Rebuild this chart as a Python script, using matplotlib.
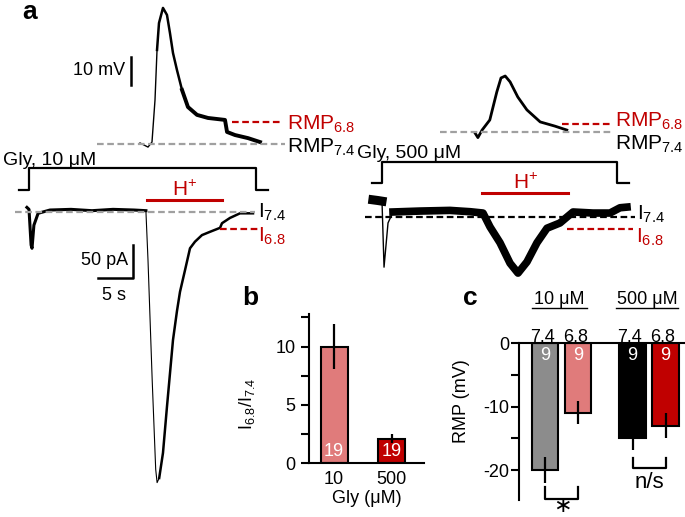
import matplotlib.pyplot as plt
from matplotlib import transforms
from matplotlib.ticker import MultipleLocator

plt.rcParams['font.family'] = ['Liberation Sans', 'DejaVu Sans']
plt.rcParams['axes.unicode_minus'] = False

W, H = 685, 517
RED = '#c00000'
PINK = '#e07b7b'
GRAY = '#8c8c8c'
DASH = '#a0a0a0'
FS = 13

# ---- panel a, 10 uM glycine: time (s) vs current (pA) / voltage (mV) ----
t_i10 = [-0.3, 0.0, 0.3, 0.43, 0.7, 1.3, 3.0, 6.0, 9.0, 12.0, 15.0, 16.7,
         17.0, 17.6, 18.1, 18.3, 18.6, 19.14, 19.71, 20.57, 21.14, 21.57,
         22.29, 23.0, 23.71, 24.71, 25.86, 27.29, 27.57, 28.71, 30.14, 32.0]
i_10 = [7, 4, -50, -55, -20, -2, 3, 4, 2, 4, 3, 2,
        -73, -255, -390, -410, -403, -365, -295, -194, -150, -121,
        -88, -55, -45, -35, -30, -24, -17, -9, -2, -2]
t_v10 = [15.86, 17.0, 17.57, 18.0, 18.29, 18.57, 19.14, 19.71, 20.14, 20.57,
         21.14, 21.86, 22.71, 24.0, 25.57, 28.0, 28.29, 29.43, 31.29, 33.0]
v_10 = [0.36, -1.1, 0.7, 15.7, 33.6, 43.2, 48.6, 46.1, 39.6, 32.5,
        26.4, 19.3, 13.2, 10.4, 9.3, 8.6, 4.3, 3.2, 2.1, 0.7]
gly_10 = [0.0, 32.4]
proton_10 = [16.9, 27.6]
rmp68_10 = 7.9
i68_10 = -26

# ---- panel a, 500 uM glycine ----
t_i500 = [-1.3, -0.6, 0.0, 0.29, 0.86, 1.57, 5.4, 9.7, 12.6, 14.43, 15.43,
          16.86, 18.29, 19.43, 20.71, 22.14, 23.57, 25.43, 26.43, 27.29,
          30.14, 32.57, 34.0, 35.0]
i_500 = [26, 25, 24, -76, -9, 7.6, 9, 10, 8, 6, -15,
         -39, -70, -85, -68, -39, -17, -9, 0, 7.6,
         6, 6, 14, 15]
t_v500 = [13.3, 13.7, 14.3, 15.4, 16.4, 17.0, 17.6, 18.3, 19.4, 20.7, 22.6,
          24.7, 26.4]
v_500 = [-0.4, -2, 0.7, 4.3, 14.3, 19.3, 20, 17.9, 12.5, 7.9, 3.6, 2.1, 0.7]
gly_500 = [0.0, 33.6]
proton_500 = [14.3, 26.6]
rmp68_500 = 2.9
i68_500 = -18

# ---- panel b ----
gly_conc = ['10', '500']
ratio = [10.0, 2.1]
ratio_err = [1.9, 0.4]
n_b = [19, 19]

# ---- panel c ----
ph_labels = ['7.4', '6.8', '7.4', '6.8']
rmp = [-20, -11, -15, -13]
rmp_err = [2.0, 1.8, 1.8, 2.0]
n_c = [9, 9, 9, 9]
group_labels = ['10 μM', '500 μM']

fig = plt.figure(figsize=(W / 100, H / 100), dpi=100)


def overlay(x0, y0, sx, sy):
    # full-figure axes; data (0, 0) lands on pixel (x0, y0), sx/sy px per unit
    ax = fig.add_axes([0, 0, 1, 1], facecolor='none')
    ax.set_xlim(-x0 / sx, (W - x0) / sx)
    ax.set_ylim((y0 - H) / sy, y0 / sy)
    ax.axis('off')
    return ax


def px_axes(x0, x1, y_top, y_bot):
    return fig.add_axes([x0 / W, (H - y_bot) / H, (x1 - x0) / W, (y_bot - y_top) / H])


ax_px = overlay(0, 0, 1, -1)
ax_i10 = overlay(29, 212, 7, 0.66)
ax_v10 = overlay(29, 144, 7, 2.8)
ax_i500 = overlay(382, 217, 7, 0.66)
ax_v500 = overlay(382, 132, 7, 2.8)


def hline(ax, y, x0, x1, color, ls=(0, (3, 1.6)), lw=1.6):
    tr = transforms.blended_transform_factory(ax_px.transData, ax.transData)
    ax.plot([x0, x1], [y, y], color=color, ls=ls, lw=lw, transform=tr)


def stim(ax, gly, proton, y_low, y_high, y_h):
    tr = transforms.blended_transform_factory(ax.transData, ax_px.transData)
    on, off = gly
    ax.plot([on - 1.5, on, on, off, off, off + 1.7],
            [y_low, y_low, y_high, y_high, y_low, y_low],
            color='black', lw=1.6, transform=tr)
    ax.plot(proton, [y_h, y_h], color=RED, lw=2.2, transform=tr)
    ax.text(sum(proton) / 2, y_h - 4, r'$\mathregular{H^{+}}$', color=RED,
            fontsize=15, ha='center', va='baseline', transform=tr)


# left traces
ax_v10.plot(t_v10[:5], v_10[:5], color='black', lw=1.0)
ax_v10.plot(t_v10[4:12], v_10[4:12], color='black', lw=1.8)
ax_v10.plot(t_v10[11:], v_10[11:], color='black', lw=2.8)
ax_i10.plot(t_i10[:12], i_10[:12], color='black', lw=2.2)
ax_i10.plot(t_i10[11:17], i_10[11:17], color='black', lw=0.8)
ax_i10.plot(t_i10[16:], i_10[16:], color='black', lw=1.8)

hline(ax_v10, 0, 97, 285, DASH)
hline(ax_v10, rmp68_10, 232, 283, RED)
hline(ax_i10, 0, 15, 255, DASH)
hline(ax_i10, i68_10, 220, 258, RED)
stim(ax_i10, gly_10, proton_10, 190, 168, 200)

# scale bars (10 mV, 50 pA, 5 s)
ax_v10.plot([14.57, 14.57], [21.1, 31.1], color='black', lw=1.8)
ax_i10.plot([9.86, 14.86, 14.86], [-100, -100, -50], color='black', lw=1.8)

# right traces
ax_v500.plot(t_v500, v_500, color='black', lw=2.0)
ax_i500.plot(t_i500[:3], i_500[:3], color='black', lw=6.5)
ax_i500.plot(t_i500[2:6], i_500[2:6], color='black', lw=1.0)
ax_i500.plot(t_i500[5:], i_500[5:], color='black', lw=5.5, solid_joinstyle='round')

hline(ax_v500, 0, 440, 613, DASH)
hline(ax_v500, rmp68_500, 562, 612, RED)
hline(ax_i500, 0, 365, 635, 'black')
hline(ax_i500, i68_500, 567, 633, RED)
stim(ax_i500, gly_500, proton_500, 183, 162, 193)

# panel a texts
txt = dict(fontsize=FS, va='baseline')
ax_px.text(22, 19, 'a', fontsize=19, fontweight='bold', va='baseline')
ax_px.text(125, 75, '10 mV', ha='right', **txt)
ax_px.text(128, 265, '50 pA', ha='right', **txt)
ax_px.text(114, 300, '5 s', ha='center', **txt)
ax_px.text(3, 165, 'Gly, 10 μM', fontsize=14, va='baseline')
ax_px.text(357, 158, 'Gly, 500 μM', fontsize=14, va='baseline')
ax_px.text(287, 130, r'$\mathregular{RMP_{6.8}}$', color=RED, fontsize=15, va='baseline')
ax_px.text(287, 153, r'$\mathregular{RMP_{7.4}}$', fontsize=15, va='baseline')
ax_px.text(615, 127, r'$\mathregular{RMP_{6.8}}$', color=RED, fontsize=15, va='baseline')
ax_px.text(615, 150, r'$\mathregular{RMP_{7.4}}$', fontsize=15, va='baseline')
ax_px.text(258, 218, r'$\mathregular{I_{7.4}}$', fontsize=15, va='baseline')
ax_px.text(258, 242, r'$\mathregular{I_{6.8}}$', color=RED, fontsize=15, va='baseline')
ax_px.text(637, 220, r'$\mathregular{I_{7.4}}$', fontsize=15, va='baseline')
ax_px.text(636, 243, r'$\mathregular{I_{6.8}}$', color=RED, fontsize=15, va='baseline')
ax_px.text(242, 305, 'b', fontsize=19, fontweight='bold', va='baseline')
ax_px.text(463, 305, 'c', fontsize=19, fontweight='bold', va='baseline')
ax_px.text(562, 516, '∗', fontsize=16, family='DejaVu Sans', ha='center', va='bottom')

# ---- panel b ----
ax_b = px_axes(309, 424, 314, 463)
xb = [0, 1]
ax_b.bar(xb, ratio, width=0.47, color=[PINK, RED], edgecolor='black', lw=1.5)
ax_b.errorbar(xb, ratio, yerr=ratio_err, fmt='none', ecolor='black', elinewidth=1.6, capsize=0)
for x, n in zip(xb, n_b):
    ax_b.text(x, 0.25, str(n), color='white', fontsize=FS, ha='center', va='bottom')
ax_b.set_xlim(-0.435, 1.565)
ax_b.set_ylim(0, 12.8)
ax_b.set_xticks(xb)
ax_b.set_xticklabels(gly_conc)
ax_b.yaxis.set_major_locator(MultipleLocator(5))
ax_b.yaxis.set_minor_locator(MultipleLocator(2.5))
ax_b.tick_params(axis='y', which='both', length=6, width=1.5, pad=3.5, labelsize=FS)
ax_b.tick_params(axis='x', length=0, pad=6, labelsize=FS)
for s in ['top', 'right']:
    ax_b.spines[s].set_visible(False)
for s in ['left', 'bottom']:
    ax_b.spines[s].set_linewidth(1.5)
ax_b.set_xlabel('Gly (μM)', fontsize=FS, labelpad=1)
ax_b.set_ylabel(r'$\mathregular{I_{6.8}/I_{7.4}}$', fontsize=FS)
ax_b.yaxis.set_label_coords(-0.45, 0.40)

# ---- panel c ----
ax_c = px_axes(519, 685, 343, 500)
xc = [0, 1, 2.65, 3.65]
ax_c.bar(xc, rmp, width=0.8, color=[GRAY, PINK, 'black', RED], edgecolor='black', lw=1.5)
ax_c.errorbar(xc, rmp, yerr=rmp_err, fmt='none', ecolor='black', elinewidth=1.6, capsize=0)
for x, n, ph in zip(xc, n_c, ph_labels):
    ax_c.text(x, -1.9, str(n), color='white', fontsize=FS, ha='center', va='center')
    ax_c.text(x - 0.08, 0.2, ph, fontsize=FS, ha='center', va='baseline')
for (x0, x1), lab in zip([(-0.39, 1.27), (2.15, 4.03)], group_labels):
    ax_c.text((x0 + x1) / 2, 6.1, lab, fontsize=FS, ha='center', va='baseline')
    ax_c.plot([x0, x1], [5.5, 5.5], color='black', lw=1.0, clip_on=False)
# significance brackets
ax_c.plot([xc[0], xc[0], xc[1], xc[1]], [-22.7, -24.6, -24.6, -22.7], color='black', lw=1.6, clip_on=False)
ax_c.plot([xc[2], xc[2], xc[3], xc[3]], [-18.1, -19.7, -19.7, -18.1], color='black', lw=1.6, clip_on=False)
ax_c.text(3.15, -22.0, 'n/s', fontsize=16, ha='center', va='center')
ax_c.set_xlim(-0.79, 4.24)
ax_c.set_ylim(-24.7, 0)
ax_c.set_xticks([])
ax_c.yaxis.set_major_locator(MultipleLocator(10))
ax_c.yaxis.set_minor_locator(MultipleLocator(5))
ax_c.tick_params(axis='y', which='both', length=6, width=1.5, pad=1, labelsize=FS)
for s in ['bottom', 'right']:
    ax_c.spines[s].set_visible(False)
for s in ['left', 'top']:
    ax_c.spines[s].set_linewidth(1.5)
ax_c.set_ylabel('RMP (mV)', fontsize=FS)
ax_c.yaxis.set_label_coords(-0.295, 0.63)

fig.savefig('out.png', dpi=100)
